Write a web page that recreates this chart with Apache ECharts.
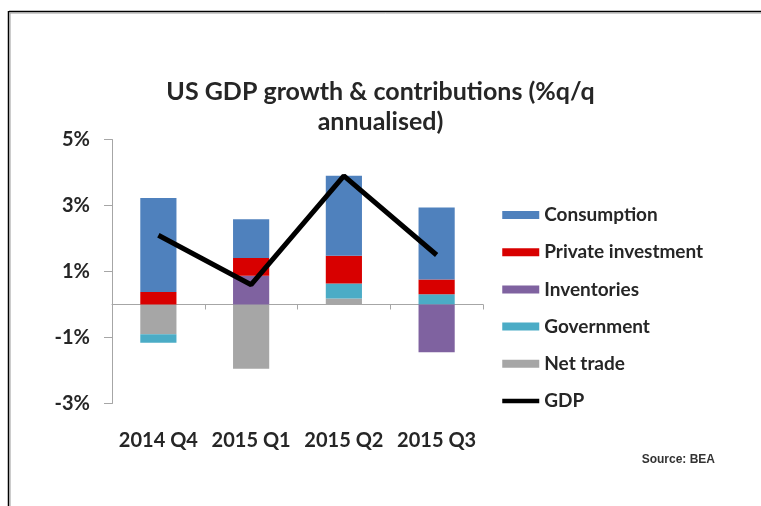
<!DOCTYPE html>
<html>
<head>
<meta charset="utf-8">
<script src="https://cdn.jsdelivr.net/npm/echarts@6/dist/echarts.min.js"></script>
<style>
html,body{margin:0;padding:0;background:#fff;}
#main{width:761px;height:506px;}
</style>
</head>
<body>
<div id="main"></div>
<script>
var categories = ['2014 Q4', '2015 Q1', '2015 Q2', '2015 Q3'];
var consumption = [2.85, 1.17, 2.42, 2.18];
var privateInvestment = [0.38, 0.54, 0.84, 0.45];
var inventories = [0, 0.87, 0, -1.45];
var government = [-0.26, 0, 0.46, 0.31];
var netTrade = [-0.9, -1.95, 0.18, 0];
var gdp = [2.1, 0.6, 3.9, 1.5];
var yTicks = { min: -3, max: 5, interval: 2 };

var FONT = 'Lato';
var TXT = '#262626';
var AX = '#a6a6a6';

var chart = echarts.init(document.getElementById('main'), null, { renderer: 'canvas' });

function barSeries(name, data, color) {
  return {
    name: name, type: 'bar', stack: 'c', data: data,
    barWidth: '39%',
    itemStyle: { color: color },
    emphasis: { disabled: true }
  };
}

var option = {
  animation: false,
  backgroundColor: '#fff',
  title: {
    text: 'US GDP growth & contributions (%q/q\nannualised)',
    left: 'center', top: 72,
    textStyle: { fontFamily: FONT, fontWeight: 'bold', fontSize: 25, lineHeight: 30, color: TXT }
  },
  legend: {
    orient: 'vertical', left: 500, top: 205, padding: 0,
    itemWidth: 37, itemHeight: 8, itemGap: 17.2,
    textStyle: { fontFamily: FONT, fontWeight: 'bold', fontSize: 19, lineHeight: 20, color: TXT },
    data: [
      { name: 'Consumption', icon: 'rect' },
      { name: 'Private investment', icon: 'rect' },
      { name: 'Inventories', icon: 'rect' },
      { name: 'Government', icon: 'rect' },
      { name: 'Net trade', icon: 'rect' },
      { name: 'GDP', itemStyle: { opacity: 0 }, lineStyle: { width: 4.5, color: '#000' } }
    ]
  },
  grid: { left: 112, top: 139.5, width: 371, height: 264, containLabel: false },
  xAxis: [
    {
      type: 'category', data: categories, position: 'top',
      axisLine: { show: true, onZero: true, lineStyle: { color: AX, width: 1 } },
      axisTick: { show: true, inside: true, length: 5, alignWithLabel: false, lineStyle: { color: AX } },
      axisLabel: { show: false },
      splitLine: { show: false }
    },
    {
      type: 'category', data: categories, position: 'bottom',
      axisLine: { show: false, onZero: false },
      axisTick: { show: false },
      axisLabel: { show: true, interval: 0, hideOverlap: false, margin: 27, fontFamily: FONT, fontWeight: 'bold', fontSize: 20, color: TXT },
      splitLine: { show: false }
    }
  ],
  yAxis: {
    type: 'value', min: yTicks.min, max: yTicks.max, interval: yTicks.interval,
    axisLine: { show: true, lineStyle: { color: AX, width: 1 } },
    axisTick: { show: true, length: 8, lineStyle: { color: AX } },
    axisLabel: { margin: 22, formatter: '{value}%', fontFamily: FONT, fontWeight: 'bold', fontSize: 20, color: TXT },
    splitLine: { show: false }
  },
  series: [
    barSeries('Net trade', netTrade, '#a6a6a6'),
    barSeries('Government', government, '#4bacc6'),
    barSeries('Inventories', inventories, '#7f62a0'),
    barSeries('Private investment', privateInvestment, '#d80000'),
    barSeries('Consumption', consumption, '#4f81bd'),
    {
      name: 'GDP', type: 'line', data: gdp, showSymbol: false, symbol: 'none', z: 10,
      lineStyle: { color: '#000', width: 5 },
      itemStyle: { color: '#000' },
      emphasis: { disabled: true }
    }
  ],
  graphic: [
    { type: 'line', shape: { x1: 9, y1: 11.5, x2: 761, y2: 11.5 }, style: { stroke: '#000', lineWidth: 1.5 } },
    { type: 'line', shape: { x1: 10, y1: 13, x2: 761, y2: 13 }, style: { stroke: '#9a9a9a', lineWidth: 1 } },
    { type: 'line', shape: { x1: 8.5, y1: 11, x2: 8.5, y2: 506 }, style: { stroke: '#000', lineWidth: 1.5 } },
    { type: 'line', shape: { x1: 10, y1: 13, x2: 10, y2: 506 }, style: { stroke: '#9a9a9a', lineWidth: 1 } },
    { type: 'text', right: 46, top: 454, style: { text: 'Source: BEA', font: 'bold 12px "Liberation Sans Narrow", "Liberation Sans", sans-serif', fill: '#333' } }
  ]
};
chart.setOption(option);
</script>
</body>
</html>
